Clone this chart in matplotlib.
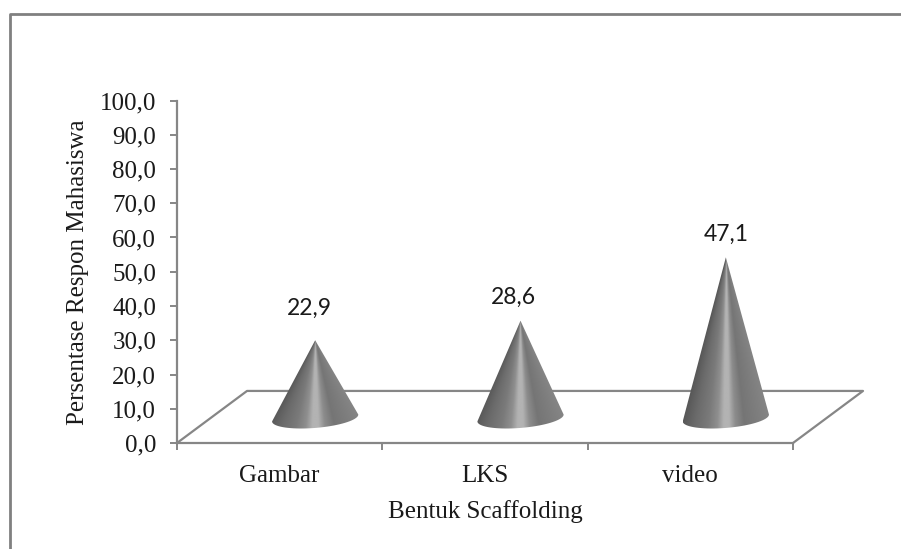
import numpy as np
import matplotlib
matplotlib.use("Agg")
import matplotlib.pyplot as plt
from matplotlib.lines import Line2D
from matplotlib.patches import Polygon

categories = ["Gambar", "LKS", "video"]
values = [22.9, 28.6, 47.1]
value_labels = ["22,9", "28,6", "47,1"]
yticks = [0, 10, 20, 30, 40, 50, 60, 70, 80, 90, 100]
ytick_labels = ["0,0", "10,0", "20,0", "30,0", "40,0", "50,0", "60,0", "70,0", "80,0", "90,0", "100,0"]

W, H = 901, 549
GREY = "#868686"
TEXT = "#1a1a1a"
SERIF = "Liberation Serif"

fig = plt.figure(figsize=(W / 100, H / 100), dpi=100, facecolor="white")
ax = fig.add_axes([177 / W, 1 - 443 / H, (793 - 177) / W, (443 - 100.5) / H])
ax.set_xlim(0, 3)
ax.set_ylim(0, 100)

# fake 3d floor, back corner offset in data units
dx, dy = 0.341, 15.2
ax.plot([0, dx, 3 + dx, 3], [0, dy, dy, 0], color=GREY, lw=1.6, clip_on=False, zorder=1)

# cone shading across the width, dark edges and a light band
shade_u = [-1.0, -0.7, -0.4, -0.2, -0.06, 0.06, 0.2, 0.4, 0.7, 1.0]
shade_c = [0.34, 0.42, 0.48, 0.56, 0.70, 0.70, 0.55, 0.46, 0.49, 0.52]
half_w = 0.21
base_y = 7.3
tip_y = 7.1
for i, v in enumerate(values):
    xc = i + 0.5 + 0.173
    t = np.linspace(0, np.pi, 40)
    # base ellipse, a bit tilted like the original
    arc_x = xc + half_w * np.cos(t)
    arc_y = base_y - 2.9 * np.sin(t) + 1.0 * np.cos(t)
    pts = np.column_stack([np.r_[xc, arc_x], np.r_[v + tip_y, arc_y]])
    cone = Polygon(pts, closed=True, fc="none", ec="none")
    ax.add_patch(cone)
    # shading lines run into the tip
    top = v + tip_y
    gx, gy = np.meshgrid(np.linspace(-half_w, half_w, 200), np.linspace(top, 0, 300))
    frac = np.clip((top - gy) / (top - base_y), 0.001, None)
    img = np.interp(gx / (half_w * frac), shade_u, shade_c)
    im = ax.imshow(img, cmap="gray", vmin=0, vmax=1, aspect="auto", interpolation="bilinear",
                   extent=[xc - half_w, xc + half_w, 0, top], zorder=3)
    im.set_clip_path(cone)

ax.set_xlim(0, 3)
ax.set_ylim(0, 100)

# value labels above the tips, offsets in pixels
label_dx = [-6, -7, 0]
label_dy = [32, 23, 23]
for i, v in enumerate(values):
    ax.annotate(value_labels[i], (i + 0.5 + 0.173, v + tip_y),
                xytext=(label_dx[i] * 0.72, label_dy[i] * 0.72),
                textcoords="offset points", ha="center", va="center",
                fontsize=16.5, family="Lato", color=TEXT, annotation_clip=False)

for s in ["top", "right"]:
    ax.spines[s].set_visible(False)
for s in ["left", "bottom"]:
    ax.spines[s].set_color(GREY)
    ax.spines[s].set_linewidth(1.6)

ax.set_yticks(yticks)
ax.set_yticklabels(ytick_labels, family=SERIF, fontsize=18, color=TEXT)
ax.set_xticks([0, 1, 2, 3])
ax.set_xticklabels([])
ax.tick_params(axis="both", color=GREY, width=1.4, length=5)
ax.tick_params(axis="y", pad=10)

for i, c in enumerate(categories):
    fig.text((177 + (i + 0.5) * 205.3) / W, 1 - 476 / H, c, ha="center", va="center",
             family=SERIF, fontsize=18, color=TEXT)

fig.text(485 / W, 1 - 512 / H, "Bentuk Scaffolding", ha="center", va="center",
         family=SERIF, fontsize=18, color=TEXT)
fig.text(78 / W, 1 - 272 / H, "Persentase Respon Mahasiswa", ha="center", va="center",
         rotation=90, family=SERIF, fontsize=18, color=TEXT)

# outer chart frame, only top and left show
fig.add_artist(Line2D([10 / W, 10 / W, 1], [0, 1 - 14 / H, 1 - 14 / H], color="#808080", lw=2.0))

fig.savefig("out.png", dpi=100)
